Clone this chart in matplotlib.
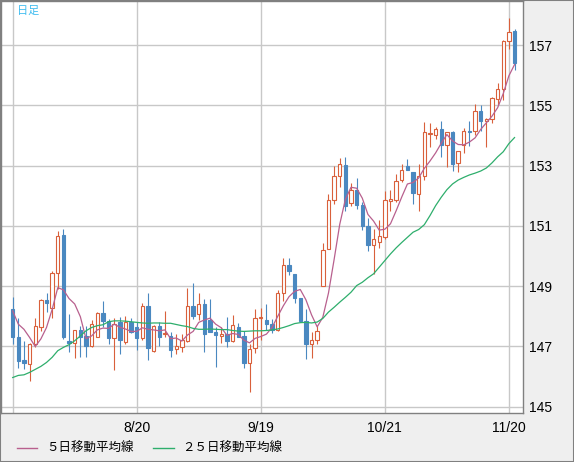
import matplotlib
matplotlib.use('Agg')
import matplotlib.pyplot as plt
from matplotlib.lines import Line2D
from matplotlib.patches import Rectangle

# daily candles, oldest first
opens = [148.24, 147.32, 146.55, 146.41, 147.08, 147.63, 148.55, 148.29, 149.43, 150.70,
         147.19, 147.10, 147.54, 147.35, 147.00, 147.33, 148.10, 147.85, 147.27, 147.80,
         147.14, 147.80, 147.64, 147.27, 148.35, 146.85, 147.69, 147.40, 147.36, 146.91,
         146.98, 147.18, 148.35, 148.08, 148.41, 147.88, 147.49, 147.36, 147.42, 147.17,
         147.66, 147.36, 146.45, 146.96, 147.96, 147.87, 147.74, 147.55, 148.78, 149.71,
         149.42, 148.60, 147.85, 147.07, 147.23, 149.02, 150.24, 151.86, 152.64, 153.03,
         151.75, 152.19, 151.69, 151.01, 150.35, 150.46, 150.62, 151.84, 151.86, 152.52,
         153.00, 152.80, 152.06, 152.65, 154.05, 154.00, 154.20, 153.67, 154.10, 153.07,
         153.67, 154.16, 154.15, 154.80, 154.49, 154.53, 155.22, 155.53, 157.14, 157.47]
highs = [148.65, 147.94, 147.19, 147.10, 147.94, 148.57, 148.78, 149.51, 150.83, 150.89,
         148.07, 147.56, 147.67, 147.67, 147.88, 148.16, 148.51, 147.90, 147.95, 147.97,
         148.00, 147.95, 147.80, 148.43, 148.78, 147.70, 147.80, 148.19, 147.49, 147.42,
         147.42, 148.93, 149.11, 148.78, 148.57, 148.57, 147.64, 147.66, 147.98, 148.05,
         147.77, 147.52, 147.07, 148.25, 148.29, 148.40, 147.91, 148.89, 149.93, 149.93,
         149.42, 148.60, 148.23, 147.47, 147.69, 150.42, 152.06, 153.00, 153.25, 153.28,
         152.41, 152.59, 151.78, 151.27, 150.90, 151.20, 152.17, 152.19, 152.72, 153.06,
         153.22, 152.80, 153.06, 154.43, 154.40, 154.29, 154.48, 154.12, 154.15, 153.49,
         154.25, 154.48, 155.04, 155.00, 154.59, 155.26, 155.73, 157.17, 157.89, 157.52]
lows = [147.08, 146.30, 146.24, 145.84, 146.97, 147.50, 148.13, 147.96, 148.90, 147.24,
        146.83, 146.61, 146.66, 146.66, 146.99, 147.32, 147.63, 147.08, 146.21, 146.74,
        147.09, 147.44, 146.87, 147.20, 146.56, 146.81, 147.00, 147.30, 146.65, 146.74,
        146.81, 147.14, 147.91, 147.88, 146.81, 147.47, 146.32, 147.11, 146.98, 147.14,
        147.31, 146.30, 145.50, 146.78, 147.22, 147.55, 147.44, 147.52, 148.51, 149.38,
        148.45, 147.80, 146.60, 146.63, 147.09, 149.00, 150.24, 151.73, 152.28, 151.49,
        151.67, 151.56, 150.87, 150.18, 149.41, 150.27, 150.57, 151.49, 151.78, 152.45,
        152.84, 151.73, 151.51, 152.52, 153.62, 153.87, 153.29, 152.96, 152.83, 152.79,
        153.42, 153.66, 154.01, 154.15, 153.62, 154.40, 155.00, 155.19, 156.86, 156.17]
closes = [147.30, 146.52, 146.44, 147.08, 147.67, 148.54, 148.43, 149.43, 150.67, 147.32,
          147.10, 147.54, 147.32, 147.02, 147.76, 148.10, 147.83, 147.28, 147.74, 147.23,
          147.80, 147.47, 147.27, 148.35, 146.95, 147.69, 147.33, 147.45, 146.89, 147.02,
          147.20, 148.35, 148.02, 148.41, 147.42, 147.49, 147.38, 147.40, 147.17, 147.71,
          147.33, 146.45, 146.92, 147.94, 147.99, 147.74, 147.55, 148.76, 149.71, 149.51,
          148.60, 147.85, 147.07, 147.22, 147.50, 150.20, 151.86, 152.64, 153.06, 151.66,
          152.19, 151.69, 151.01, 150.35, 150.57, 150.68, 151.86, 151.88, 152.50, 152.86,
          152.86, 152.08, 152.64, 154.10, 154.08, 154.20, 153.67, 154.10, 153.05, 153.47,
          154.15, 154.11, 154.80, 154.49, 154.56, 155.23, 155.53, 157.14, 157.44, 156.41]

# moving averages as shown on the chart
ma5 = [148.18, 147.74, 147.57, 147.30, 147.00, 147.25, 147.63, 148.23, 148.95, 148.88,
       148.59, 148.41, 147.99, 147.26, 147.35, 147.55, 147.61, 147.60, 147.74, 147.64,
       147.58, 147.50, 147.50, 147.62, 147.57, 147.55, 147.52, 147.55, 147.26, 147.28,
       147.18, 147.38, 147.50, 147.80, 147.88, 147.94, 147.74, 147.62, 147.37, 147.43,
       147.40, 147.21, 147.12, 147.27, 147.33, 147.41, 147.63, 148.00, 148.35, 148.65,
       148.83, 148.89, 148.55, 148.05, 147.65, 147.97, 148.77, 149.88, 151.05, 151.88,
       152.28, 152.25, 151.92, 151.38, 151.16, 150.86, 150.89, 151.07, 151.50, 151.96,
       152.39, 152.44, 152.59, 152.91, 153.15, 153.42, 153.74, 154.03, 153.82, 153.70,
       153.69, 153.78, 153.92, 154.20, 154.42, 154.64, 154.92, 155.39, 155.98, 156.35]
ma25 = [145.97, 146.04, 146.06, 146.14, 146.24, 146.34, 146.47, 146.64, 146.86, 146.97,
        147.06, 147.19, 147.35, 147.52, 147.63, 147.69, 147.72, 147.82, 147.85, 147.85,
        147.84, 147.82, 147.80, 147.78, 147.77, 147.78, 147.78, 147.77, 147.77, 147.73,
        147.69, 147.66, 147.60, 147.57, 147.57, 147.58, 147.57, 147.56, 147.56, 147.53,
        147.51, 147.50, 147.51, 147.52, 147.52, 147.53, 147.55, 147.58, 147.63, 147.69,
        147.76, 147.79, 147.80, 147.78, 147.81, 147.93, 148.14, 148.30, 148.47, 148.63,
        148.80, 149.02, 149.13, 149.28, 149.41, 149.63, 149.85, 150.07, 150.27, 150.45,
        150.62, 150.79, 150.88, 151.04, 151.34, 151.67, 151.95, 152.20, 152.39, 152.52,
        152.61, 152.69, 152.75, 152.82, 152.92, 153.09, 153.29, 153.46, 153.73, 153.93]

date_pos = [0, 22, 44, 66, 88]
date_labels = ['', '8/20', '9/19', '10/21', '11/20']
price_ticks = [145, 147, 149, 151, 153, 155, 157]
legend_labels = ['５日移動平均線', '２５日移動平均線']

up_col = '#d9603b'
down_col = '#4a88c0'
ma5_col = '#b8608e'
ma25_col = '#2eae6c'
bg = '#efefef'

fig = plt.figure(figsize=(5.74, 4.62), dpi=100, facecolor=bg)
ax = fig.add_axes([1 / 574, 49.5 / 462, 522 / 574, 411.5 / 462])
ax.set_facecolor('white')

x = list(range(len(closes)))
for i in x:
    o, h, l, c = opens[i], highs[i], lows[i], closes[i]
    col = up_col if c >= o else down_col
    ax.vlines(i, l, h, color=col, linewidth=0.8, zorder=2)
    face = 'white' if c >= o else down_col
    ax.bar(i, max(abs(c - o), 0.02), bottom=min(o, c), width=0.6,
           facecolor=face, edgecolor=col, linewidth=0.8, zorder=3)

ax.plot(x, ma5, color=ma5_col, linewidth=0.9, zorder=4)
ax.plot(x, ma25, color=ma25_col, linewidth=0.9, zorder=4)

ax.set_xlim(-2.07, 90.5)
ax.set_ylim(144.81, 158.46)
ax.set_xticks(date_pos)
ax.set_xticklabels(date_labels)
ax.set_yticks(price_ticks)
ax.yaxis.tick_right()
ax.tick_params(length=0, labelsize=10, colors='black')
ax.tick_params(axis='x', pad=6)
ax.tick_params(axis='y', pad=4)
for lab in ax.get_xticklabels() + ax.get_yticklabels():
    lab.set_family('Liberation Sans')
ax.grid(True, color='#c8c8c8', linewidth=1.0, zorder=0)
ax.set_axisbelow(True)
for s in ax.spines.values():
    s.set_color('#808080')
    s.set_linewidth(1.0)

ax.text(16 / 522, 1 - 10 / 411.5, '日足', transform=ax.transAxes, color='#3ebcf0',
        fontsize=8, family=['Noto Sans CJK JP', 'DejaVu Sans'], va='center', ha='left')

# legend under the axis
ly = 1 - 448 / 462
for (x0, x1, tx), col, lab in zip([(16.5, 36.6, 46), (153, 174, 182)],
                                  [ma5_col, ma25_col], legend_labels):
    fig.add_artist(Line2D([x0 / 574, x1 / 574], [ly, ly], transform=fig.transFigure,
                          color=col, linewidth=1.0))
    fig.text(tx / 574, ly, lab, fontsize=9, va='center', ha='left',
             family=['Noto Sans CJK JP', 'DejaVu Sans'])

fig.add_artist(Rectangle((0, 0), 1, 1, transform=fig.transFigure, fill=False,
                         edgecolor='#808080', linewidth=1.5))

fig.savefig('out.png', dpi=100, facecolor=bg)
